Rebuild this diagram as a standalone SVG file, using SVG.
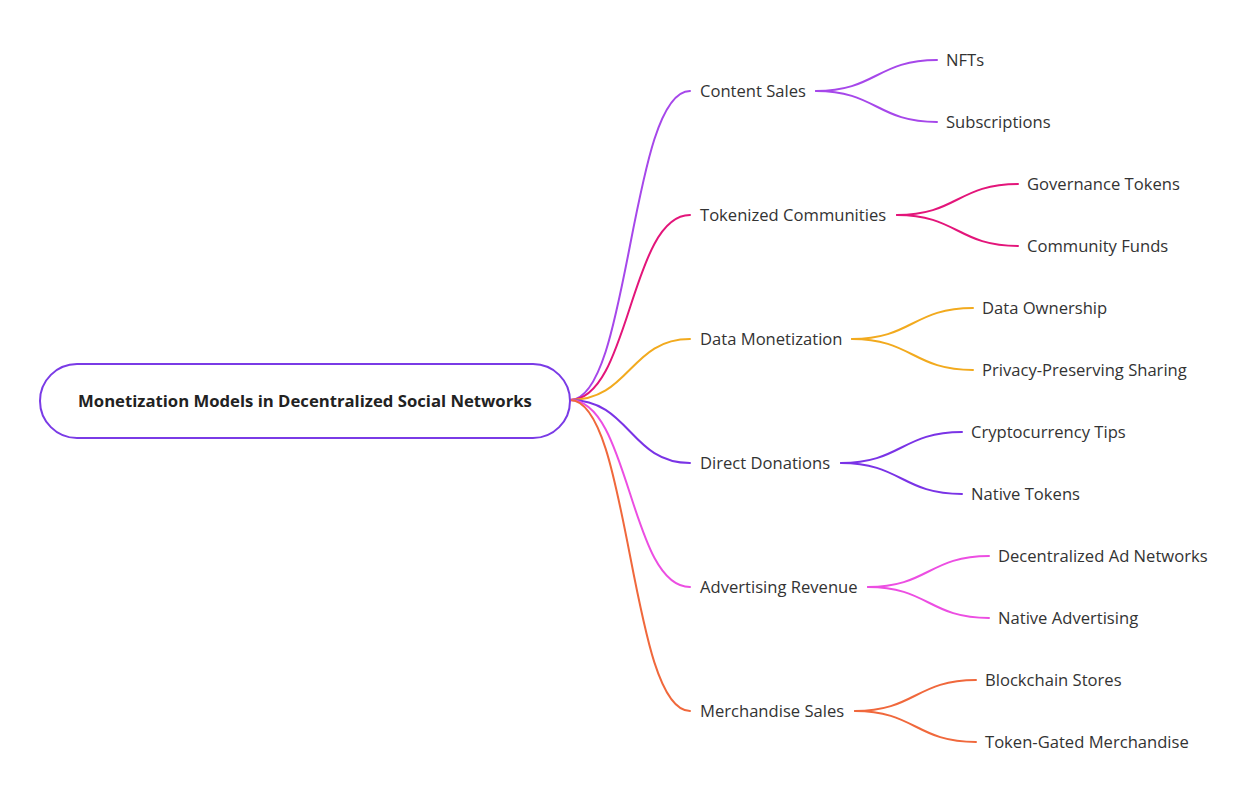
<svg xmlns="http://www.w3.org/2000/svg" width="1253" height="797" viewBox="0 0 1253 797">
<style>
.bg{fill:#ffffff}
.root{fill:#ffffff;stroke:#7a3be6;stroke-width:2}
.rt{font-family:"Open Sans","Liberation Sans",sans-serif;font-size:16.7px;font-weight:bold;fill:#222222}
.lb{font-family:"Open Sans","Liberation Sans",sans-serif;font-size:16.6px;fill:#333333}
.c{fill:none;stroke-width:2;stroke-linecap:round}
.k1{stroke:#a647ea}
.k2{stroke:#e3157a}
.k3{stroke:#f2aa1e}
.k4{stroke:#7a33e6}
.k5{stroke:#ec4ee2}
.k6{stroke:#f0683c}
</style>
<rect class="bg" x="0" y="0" width="1253" height="797"/>
<g id="connectors">
<path class="c k1" d="M570 400 C630 400 630 91 690 91"/>
<path class="c k2" d="M570 400 C630 400 630 215 690 215"/>
<path class="c k3" d="M570 400 C630 400 630 339 690 339"/>
<path class="c k4" d="M570 400 C630 400 630 463 690 463"/>
<path class="c k5" d="M570 400 C630 400 630 587 690 587"/>
<path class="c k6" d="M570 400 C630 400 630 711 690 711"/>
<path class="c k1" d="M816 91 C876 91 877 60 937 60"/>
<path class="c k1" d="M816 91 C876 91 877 122 937 122"/>
<path class="c k2" d="M897 215 C957 215 958 184 1018 184"/>
<path class="c k2" d="M897 215 C957 215 958 246 1018 246"/>
<path class="c k3" d="M852 339 C912 339 913 308 973 308"/>
<path class="c k3" d="M852 339 C912 339 913 370 973 370"/>
<path class="c k4" d="M841 463 C901 463 902 432 962 432"/>
<path class="c k4" d="M841 463 C901 463 902 494 962 494"/>
<path class="c k5" d="M868 587 C928 587 929 556 989 556"/>
<path class="c k5" d="M868 587 C928 587 929 618 989 618"/>
<path class="c k6" d="M855 711 C915 711 916 680 976 680"/>
<path class="c k6" d="M855 711 C915 711 916 742 976 742"/>
</g>
<g id="root">
<rect class="root" x="40" y="364" width="530" height="74" rx="37" ry="37"/>
<text class="rt" x="305" y="406.5" text-anchor="middle">Monetization Models in Decentralized Social Networks</text>
</g>
<g id="content-sales"><text class="lb" x="700" y="96.5">Content Sales</text></g>
<g id="nfts"><text class="lb" x="946" y="65.5">NFTs</text></g>
<g id="subscriptions"><text class="lb" x="946" y="127.5">Subscriptions</text></g>
<g id="tokenized-communities"><text class="lb" x="700" y="220.5">Tokenized Communities</text></g>
<g id="governance-tokens"><text class="lb" x="1027" y="189.5">Governance Tokens</text></g>
<g id="community-funds"><text class="lb" x="1027" y="251.5">Community Funds</text></g>
<g id="data-monetization"><text class="lb" x="700" y="344.5">Data Monetization</text></g>
<g id="data-ownership"><text class="lb" x="982" y="313.5">Data Ownership</text></g>
<g id="privacy-sharing"><text class="lb" x="982" y="375.5">Privacy-Preserving Sharing</text></g>
<g id="direct-donations"><text class="lb" x="700" y="468.5">Direct Donations</text></g>
<g id="crypto-tips"><text class="lb" x="971" y="437.5">Cryptocurrency Tips</text></g>
<g id="native-tokens"><text class="lb" x="971" y="499.5">Native Tokens</text></g>
<g id="advertising-revenue"><text class="lb" x="700" y="592.5">Advertising Revenue</text></g>
<g id="decentralized-ad"><text class="lb" x="998" y="561.5">Decentralized Ad Networks</text></g>
<g id="native-advertising"><text class="lb" x="998" y="623.5">Native Advertising</text></g>
<g id="merchandise-sales"><text class="lb" x="700" y="716.5">Merchandise Sales</text></g>
<g id="blockchain-stores"><text class="lb" x="985" y="685.5">Blockchain Stores</text></g>
<g id="token-gated"><text class="lb" x="985" y="747.5">Token-Gated Merchandise</text></g>
</svg>
